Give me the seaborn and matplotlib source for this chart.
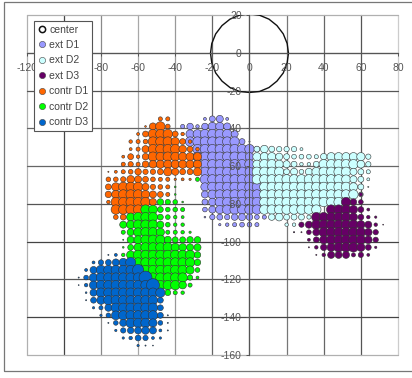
import matplotlib
matplotlib.use("Agg")
import matplotlib.pyplot as plt
import pandas as pd
import seaborn as sns
from matplotlib.lines import Line2D
from matplotlib.patches import Rectangle

# each row: y -> (first x, bubble diameters going right in steps of 4)
ext_d1 = {
    -35: (-24, [2.5, 5, 6, 2.5]),
    -39: (-36, [3.5, 5.5, 3, 5.5, 7, 7, 6]),
    -43: (-36, [1.5, 7, 7.5, 8, 8, 8, 8, 6]),
    -47: (-32, [8, 8, 8, 8, 8, 8, 8, 5, 1]),
    -51: (-28, [8, 8, 8, 8, 8, 8, 8, 8, 4.5]),
    -55: (-28, [8, 8, 8, 8, 8, 8, 8, 7]),
    -59: (-24, [8, 8, 8, 8, 8, 8, 8]),
    -63: (-24, [8, 8, 8, 8, 8, 8, 7.5]),
    -67: (-24, [8, 8, 8, 8, 8, 8, 8]),
    -71: (-24, [7, 8, 8, 8, 8, 8, 8, 8]),
    -75: (-24, [6, 7.5, 8, 8, 8, 8, 8, 8]),
    -79: (-24, [5, 6.5, 8, 8, 8, 8, 8, 8]),
    -83: (-24, [4, 6, 7, 8, 8, 8, 8, 8]),
    -87: (-24, [1.5, 4.5, 5, 4.5, 5.5, 6, 5.5, 4, 3.5]),
    -91: (-16, [2, 3, 3.5, 4, 4, 3.5]),
}
ext_d2 = {
    -51: (4, [5, 6.5, 5, 4.5, 4.5, 4.5, 2.5]),
    -55: (4, [7, 7, 7, 6, 5, 4, 4, 4, 3.5, 5.5, 7, 7, 7, 7, 7, 4.5]),
    -59: (4, [7, 8, 8, 7, 6, 5, 3, 3, 5, 8, 8, 8, 8, 8, 6.5, 4.5]),
    -63: (4, [8, 8, 8, 8, 5, 6, 4, 6, 7.5, 8, 8, 8, 8, 6, 5, 3.5]),
    -67: (4, [8, 8, 8, 8, 8, 8, 8, 8, 8, 8, 8, 8, 7.5, 6, 5, 2.5]),
    -71: (8, [8, 8, 8, 8, 8, 8, 8, 8, 8, 8, 8, 8, 7, 5, 1]),
    -75: (8, [8, 8, 8, 8, 8, 8, 8, 8, 8, 8, 8, 8, 8, 4]),
    -79: (8, [8, 8, 8, 8, 8, 8, 8, 8, 8, 8, 8]),
    -83: (8, [8, 8, 8, 8, 8, 8, 8, 8]),
    -87: (12, [5.5, 6.5, 5, 5, 5, 3.5]),
    -91: (20, [3, 3]),
    -95: (24, [1]),
}
ext_d3 = {
    -75: (60, [3]),
    -79: (52, [8, 5.5, 4]),
    -83: (44, [8, 8, 8, 7, 5, 2.5]),
    -87: (36, [8, 8, 8, 8, 8, 7, 5, 3, 2]),
    -91: (28, [4.5, 6, 8, 8, 8, 8, 8, 8, 7, 6, 3, 0.8]),
    -95: (24, [0.8, 1, 4, 6, 8, 8, 8, 8, 8, 8, 6.5, 4.5]),
    -99: (32, [2.5, 5, 7, 8, 8, 8, 8, 8, 6.5, 4.5]),
    -103: (32, [1, 3, 5.5, 7, 8, 8, 8, 7, 5, 2]),
    -107: (36, [1, 3, 6, 6, 6, 3.5, 4.5, 2.5]),
}
contr_d1 = {
    -35: (-48, [3.5, 3.5]),
    -39: (-56, [1.5, 6, 8, 4]),
    -43: (-60, [2.5, 5, 8, 8, 8, 5, 3]),
    -47: (-64, [3, 3.5, 4, 8, 8, 8, 7, 5, 3]),
    -51: (-64, [2.5, 3.5, 6, 8, 8, 8, 8, 6.5, 5, 3]),
    -55: (-68, [2.5, 5, 3, 5.5, 8, 7.5, 8, 7.5, 7, 7, 7]),
    -59: (-68, [3.5, 4.5, 3.5, 5.5, 6.5, 7, 7, 7, 7, 7, 7]),
    -63: (-76, [1, 2.5, 3.5, 4, 5.5, 4.5, 4.5, 5, 7, 6, 5, 5, 7]),
    -67: (-76, [4, 4, 4.5, 6.5, 6, 5, 4, 3.5, 3.5, 2, 2.5, 2]),
    -71: (-76, [5, 7, 8, 8, 8, 6, 4.5, 4, 3.5]),
    -75: (-76, [5.5, 7, 8, 8, 8, 7, 6, 5, 3.5]),
    -79: (-76, [3, 8, 8, 8, 8, 8, 6]),
    -83: (-72, [8, 8, 8, 8]),
    -87: (-72, [4, 5]),
}
contr_d2 = {
    -67: (-28, [3.5]),
    -71: (-40, [1.5]),
    -75: (-40, [1.5]),
    -79: (-48, [5.5, 4.5, 4, 1.5]),
    -83: (-56, [8, 7.5, 5, 4, 4, 3.5]),
    -87: (-64, [7, 8, 8, 8, 5, 4, 3, 2.5]),
    -91: (-68, [6, 7, 8, 8, 8, 6, 4, 3, 3]),
    -95: (-68, [3.5, 6, 7.5, 8, 8, 7, 3.5, 3.5, 3, 2]),
    -99: (-68, [1, 6, 7, 8, 8, 8, 6, 5, 5, 5.5, 5.5]),
    -103: (-68, [1.5, 5, 7, 8, 8, 8, 8, 7, 6.5, 6, 6]),
    -107: (-68, [3, 7, 8, 8, 8, 8, 8, 8, 8, 8, 5.5]),
    -111: (-60, [8, 8, 8, 8, 8, 8, 8, 8, 5.5]),
    -115: (-56, [8, 8, 8, 8, 8, 8, 7, 4]),
    -119: (-52, [8, 8, 8, 8, 8, 4.5, 2.5]),
    -123: (-48, [8, 8, 8, 6.5, 3.5]),
    -127: (-44, [5, 3.5, 3]),
}
contr_d3 = {
    -107: (-76, [1, 2.5]),
    -111: (-84, [2.5, 4.5, 5, 6, 7, 8.5]),
    -115: (-88, [2.5, 6, 8, 8, 8, 8, 8, 9.5]),
    -119: (-92, [1, 4, 7, 8, 8, 8, 8, 8, 8, 11]),
    -123: (-92, [0.8, 3, 7, 8, 8, 8, 8, 8, 8, 8, 11]),
    -127: (-88, [1.5, 6, 8, 8, 8, 8, 8, 8, 8, 8, 8]),
    -131: (-88, [1, 5, 7, 8, 8, 8, 8, 8, 8, 8, 5]),
    -135: (-84, [2, 3.5, 6, 8, 8, 8, 8, 8, 8, 5]),
    -139: (-80, [2, 4, 7.5, 8, 8, 8, 8, 8, 5, 1]),
    -143: (-76, [1, 4, 6, 8, 8, 8, 7, 4, 1]),
    -147: (-72, [2, 4.5, 5.5, 6, 6.5, 6, 2.5, 1]),
    -151: (-68, [2, 3, 5, 4.5, 2.5, 2]),
    -155: (-60, [2, 1, 0.8]),
}

center_x = [0, 5.4, 10.5, 14.8, 18.2, 20.3, 21, 20.3, 18.2, 14.8, 10.5, 5.4, 0,
            -5.4, -10.5, -14.8, -18.2, -20.3, -21, -20.3, -18.2, -14.8, -10.5, -5.4, 0]
center_y = [20.6, 19.9, 17.8, 14.4, 10, 4.9, -0.2, -5.3, -10.7, -15, -18.4, -20.5, -21,
            -20.5, -18.4, -15, -10.7, -5.3, -0.2, 4.9, 10, 14.4, 17.8, 19.9, 20.6]

x_ticks = [-120, -100, -80, -60, -40, -20, 0, 20, 40, 60, 80]
x_labels = ["-120", "", "-80", "-60", "-40", "-20", "0", "20", "40", "60", "80"]
y_ticks = [20, 0, -20, -40, -60, -80, -100, -120, -140, -160]
x_grays = ["#b0b0b0", "#444444", "#8a8a8a", "#a8a8a8", "#999999", "#666666",
           "#555555", "#777777", "#666666", "#555555", "#cccccc"]
y_grays = ["#b0b0b0", "#555555", "#555555", "#666666", "#666666", "#555555",
           "#444444", "#555555", "#444444", "#b0b0b0"]

series = [
    ("ext D1", ext_d1, "#9999ff"),
    ("ext D2", ext_d2, "#ccffff"),
    ("ext D3", ext_d3, "#660066"),
    ("contr D1", contr_d1, "#ff6600"),
    ("contr D2", contr_d2, "#00ff00"),
    ("contr D3", contr_d3, "#0066cc"),
]


def to_frame(rows):
    recs = []
    for y, (x0, diams) in rows.items():
        for i, d in enumerate(diams):
            recs.append({"x": x0 + 4 * i, "y": y, "area": d ** 2})
    return pd.DataFrame(recs)


sns.set_theme(style="white")
plt.rcParams["font.family"] = ["Liberation Sans", "DejaVu Sans"]

W, H = 412, 378
fig = plt.figure(figsize=(W / 100, H / 100), dpi=100)
ax = fig.add_axes([26.7 / W, 1 - 355 / H, (398 - 26.7) / W, (355 - 15) / H])

for v, c in zip(x_ticks, x_grays):
    ax.axvline(v, color=c, lw=0.9, zorder=0.5, clip_on=False)
for v, c in zip(y_ticks, y_grays):
    ax.axhline(v, color=c, lw=0.9, zorder=0.5, clip_on=False)

handles = [Line2D([], [], ls="", marker="o", ms=4.5, mfc="white", mec="#111111", mew=1.1,
                  label="center")]
for name, rows, color in series:
    sns.scatterplot(data=to_frame(rows), x="x", y="y", size="area",
                    sizes=(0, 121 * 0.72), size_norm=(0, 121), color=color,
                    edgecolor="#333333", linewidth=0.4, legend=False, ax=ax, zorder=1,
                    clip_on=False)
    handles.append(Line2D([], [], ls="", marker="o", ms=4.5, mfc=color, mec="#444444", mew=0.4,
                          label=name))

sns.lineplot(x=center_x, y=center_y, sort=False, estimator=None, color="#111111", lw=1.0, ax=ax,
             zorder=1.2)

ax.set_xlim(-120, 80)
ax.set_ylim(-160, 20)
ax.set_xlabel("")
ax.set_ylabel("")
ax.set_xticks(x_ticks)
ax.set_xticklabels(x_labels)
ax.set_yticks(y_ticks)
ax.set_yticklabels([str(v) for v in y_ticks])
ax.set_axisbelow(False)
for side in ["top", "right"]:
    ax.spines[side].set_visible(False)
ax.spines["left"].set_position("zero")
ax.spines["bottom"].set_position("zero")
ax.spines["left"].set_color("#555555")
ax.spines["bottom"].set_color("#555555")
ax.spines["left"].set_linewidth(0.8)
ax.spines["bottom"].set_linewidth(0.8)
ax.tick_params(axis="both", length=2.5, width=0.7, color="#555555", labelcolor="#555555",
               labelsize=7.5, bottom=True, left=True)
ax.tick_params(axis="x", pad=5)
ax.tick_params(axis="y", pad=3)

leg = ax.legend(handles=handles, loc="upper left", bbox_to_anchor=(34 / W, 1 - 21 / H),
                bbox_transform=fig.transFigure, borderaxespad=0, frameon=True, fancybox=False,
                framealpha=1, edgecolor="#555555", facecolor="white", fontsize=7.5,
                labelspacing=0.52, borderpad=0.35, handlelength=0.8, handletextpad=0.3,
                labelcolor="#444444")
leg.get_frame().set_linewidth(0.8)
leg.set_zorder(5)

# outer chart-area frame, right edge is cut off in the picture
fig.add_artist(Rectangle((3.5 / W, 1 - 371 / H), 420 / W, 369 / H, transform=fig.transFigure,
                         fill=False, edgecolor="#777777", lw=0.9, clip_on=False))

fig.savefig("out.png", dpi=100)
